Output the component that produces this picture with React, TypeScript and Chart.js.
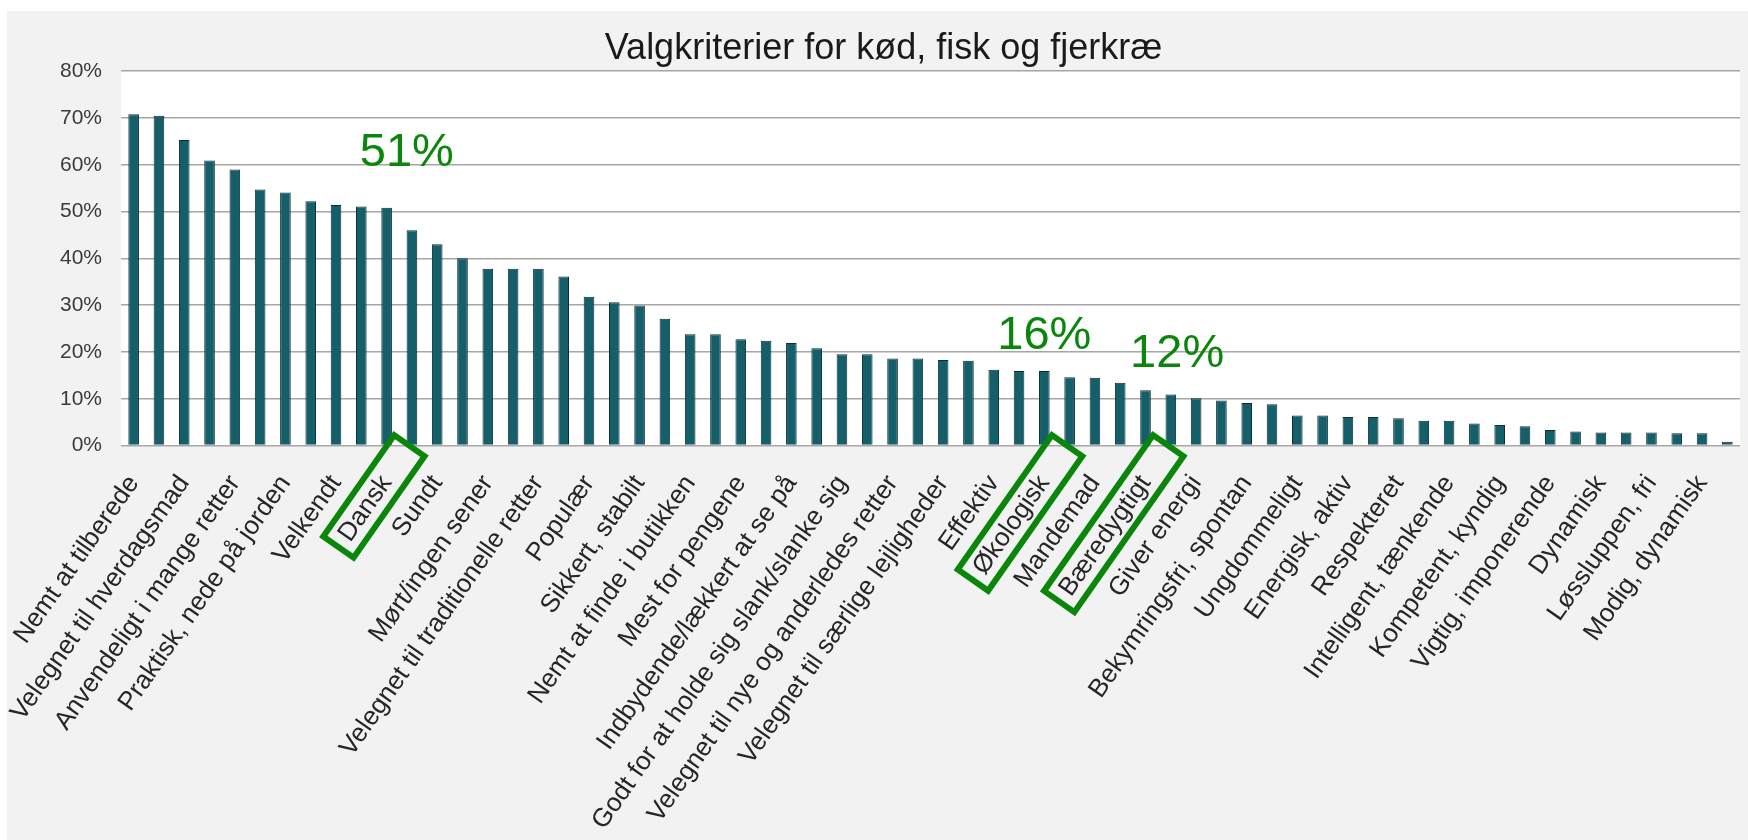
import React, { useEffect, useRef } from 'react';
import { Chart, registerables } from 'chart.js';

Chart.register(...registerables);

// ---------- data ----------
const chartTitle = 'Valgkriterier for kød, fisk og fjerkræ';

// Only every other bar carries a visible label in the original chart.
const shownLabels = [
  'Nemt at tilberede',
  'Velegnet til hverdagsmad',
  'Anvendeligt i mange retter',
  'Praktisk, nede på jorden',
  'Velkendt',
  'Dansk',
  'Sundt',
  'Mørt/ingen sener',
  'Velegnet til traditionelle retter',
  'Populær',
  'Sikkert, stabilt',
  'Nemt at finde i butikken',
  'Mest for pengene',
  'Indbydende/lækkert at se på',
  'Godt for at holde sig slank/slanke sig',
  'Velegnet til nye og anderledes retter',
  'Velegnet til særlige lejligheder',
  'Effektiv',
  'Økologisk',
  'Mandemad',
  'Bæredygtigt',
  'Giver energi',
  'Bekymringsfri, spontan',
  'Ungdommeligt',
  'Energisk, aktiv',
  'Respekteret',
  'Intelligent, tænkende',
  'Kompetent, kyndig',
  'Vigtig, imponerende',
  'Dynamisk',
  'Løssluppen, fri',
  'Modig, dynamisk',
];

const values = [
  70.8, 70.5, 65.3, 60.9, 59.0, 54.7, 54.1, 52.2, 51.4, 51.1,
  50.8, 46.0, 43.0, 40.0, 37.8, 37.8, 37.8, 36.1, 31.8, 30.6,
  29.9, 27.1, 23.8, 23.8, 22.7, 22.4, 21.9, 20.8, 19.5, 19.5,
  18.6, 18.6, 18.3, 18.1, 16.2, 15.9, 15.9, 14.6, 14.5, 13.4,
  11.8, 10.9, 10.1, 9.6, 9.1, 8.8, 6.4, 6.4, 6.1, 6.1,
  5.8, 5.3, 5.3, 4.7, 4.4, 4.1, 3.3, 3.0, 2.8, 2.8,
  2.8, 2.6, 2.6, 0.8,
];

const yTickValues = [0, 10, 20, 30, 40, 50, 60, 70, 80];

const highlightedLabels = ['Dansk', 'Økologisk', 'Bæredygtigt'];

// categories: unlabeled bars get an empty label
const categories = values.map((_, i) => (i % 2 === 0 ? shownLabels[i / 2] : ''));

// ---------- styling ----------
const FONT = "'Liberation Sans', Arial, Helvetica, sans-serif";
const GREEN = '#0a870a';
const LABEL_SIZE = 26;
const LABEL_PAD = 16;

// callout placement relative to the highlighted bar (index shift, level above bar)
const calloutPlacement = [
  { label: 'Dansk', dIndex: 0.8, dLevel: 11.7 },
  { label: 'Økologisk', dIndex: 0.0, dLevel: 7.6 },
  { label: 'Bæredygtigt', dIndex: 1.25, dLevel: 7.8 },
];

const backgroundPlugin = {
  id: 'bgPlugin',
  beforeDraw(chart: any) {
    const { ctx, chartArea: a, width, height } = chart;
    ctx.save();
    ctx.fillStyle = '#f2f2f2';
    ctx.fillRect(0, 0, width, height);
    ctx.fillStyle = '#ffffff';
    ctx.fillRect(a.left, a.top, a.right - a.left, a.bottom - a.top);
    ctx.restore();
  },
};

const annotationPlugin = {
  id: 'annotPlugin',
  afterDraw(chart: any) {
    const { ctx } = chart;
    const xs = chart.scales.x;
    const ys = chart.scales.y;
    ctx.save();
    // callout texts
    ctx.fillStyle = GREEN;
    ctx.font = `47px ${FONT}`;
    ctx.textAlign = 'center';
    ctx.textBaseline = 'middle';
    calloutPlacement.forEach((c) => {
      const i = categories.indexOf(c.label);
      const v = values[i];
      ctx.fillText(
        `${Math.round(v)}%`,
        xs.getPixelForValue(i + c.dIndex),
        ys.getPixelForValue(v + c.dLevel)
      );
    });
    // boxes around highlighted labels
    const rot = ((xs.labelRotation || 0) * Math.PI) / 180;
    ctx.font = `${LABEL_SIZE}px ${FONT}`;
    const lh = LABEL_SIZE * 1.2;
    highlightedLabels.forEach((name) => {
      const i = categories.indexOf(name);
      const px = xs.getPixelForTick(i);
      const py = xs.top + LABEL_PAD;
      const w = ctx.measureText(name).width;
      ctx.save();
      ctx.translate(px, py);
      ctx.rotate(-rot);
      ctx.strokeStyle = GREEN;
      ctx.lineWidth = 6;
      ctx.lineJoin = 'miter';
      const padS = 24;
      const padE = 26;
      const boxH = 37;
      const shift = -6;
      ctx.strokeRect(-w - padS, lh / 2 - boxH / 2 + shift, w + padS + padE, boxH);
      ctx.restore();
    });
    ctx.restore();
  },
};

export default function App() {
  const canvasRef = useRef<HTMLCanvasElement | null>(null);

  useEffect(() => {
    const canvas = canvasRef.current;
    if (!canvas) return;
    const chart = new Chart(canvas, {
      type: 'bar',
      data: {
        labels: categories,
        datasets: [
          {
            data: values,
            backgroundColor: '#155f6b',
            borderColor: '#0b2e33',
            borderWidth: 1,
            barPercentage: 0.42,
            categoryPercentage: 1,
          },
        ],
      },
      options: {
        animation: false,
        responsive: false,
        maintainAspectRatio: false,
        layout: { padding: { left: 20, right: 28, top: 0, bottom: 0 } },
        plugins: {
          legend: { display: false },
          tooltip: { enabled: false },
          title: {
            display: true,
            text: chartTitle,
            color: '#1a1a1a',
            font: { family: FONT, size: 36, weight: 'normal', lineHeight: 1.2 },
            padding: { top: 16, bottom: 1 },
          },
        },
        scales: {
          x: {
            grid: { display: false },
            border: { display: false },
            ticks: {
              autoSkip: false,
              minRotation: 55,
              maxRotation: 55,
              padding: LABEL_PAD,
              color: '#262626',
              font: { family: FONT, size: LABEL_SIZE },
            },
            afterFit: (s: any) => {
              s.height = 394.5;
              s.paddingLeft = 0;
              s.paddingRight = 0;
            },
          },
          y: {
            min: 0,
            max: 80,
            afterBuildTicks: (s: any) => {
              s.ticks = yTickValues.map((v) => ({ value: v }));
            },
            ticks: {
              callback: (v: any) => `${v}%`,
              padding: 19,
              color: '#3b3b3b',
              font: { family: FONT, size: 21 },
            },
            grid: { color: '#a6a6a6', lineWidth: 1.5, drawTicks: false },
            border: { display: false },
            afterFit: (s: any) => {
              s.width = 94;
            },
          },
        },
      } as any,
      plugins: [backgroundPlugin, annotationPlugin],
    });
    return () => chart.destroy();
  }, []);

  return (
    <div
      style={{
        position: 'fixed',
        left: 7,
        top: 11,
        width: 1741,
        height: 829,
        overflow: 'hidden',
        background: '#f2f2f2',
      }}
    >
      <canvas ref={canvasRef} width={1761} height={829} style={{ display: 'block' }} />
    </div>
  );
}
